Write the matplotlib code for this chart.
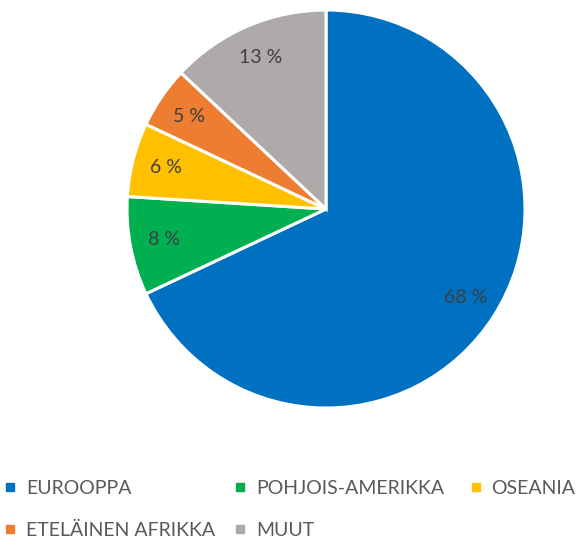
import matplotlib.pyplot as plt
from matplotlib.lines import Line2D

plt.rcParams['font.family'] = ['Lato', 'DejaVu Sans']

regions = ["EUROOPPA", "POHJOIS-AMERIKKA", "OSEANIA", "ETELÄINEN AFRIKKA", "MUUT"]
shares = [68, 8, 6, 5, 13]
colors = ["#0070C0", "#00B050", "#FFC000", "#ED7D31", "#AEAAAA"]

fig = plt.figure(figsize=(5.76, 5.41), dpi=100)
ax = fig.add_axes([0.2205, 0.2458, 0.691, 0.7357])

wedges, texts, autotexts = ax.pie(
    shares, colors=colors, startangle=90, counterclock=False,
    autopct=lambda p: "%d %%" % round(p), pctdistance=0.83,
    wedgeprops=dict(edgecolor="white", linewidth=2.2),
    textprops=dict(color="#404040", fontsize=14))
ax.set_xlim(-1, 1)
ax.set_ylim(-1, 1)
ax.set_aspect("equal")

# legend drawn column by column to mimic the row-major layout
cols = [[0, 3], [1, 4], [2]]
xpos = [0.008, 0.407, 0.816]
for x, idx in zip(xpos, cols):
    handles = [Line2D([], [], marker="s", linestyle="", markersize=6,
                      color=colors[i]) for i in idx]
    fig.legend(handles, [regions[i] for i in idx], loc="upper left",
               bbox_to_anchor=(x, 0.113), frameon=False, fontsize=14,
               labelcolor="#595959", handlelength=0.6, handletextpad=0.5,
               labelspacing=1.3, borderaxespad=0, borderpad=0)

fig.savefig("out.png", dpi=100)
